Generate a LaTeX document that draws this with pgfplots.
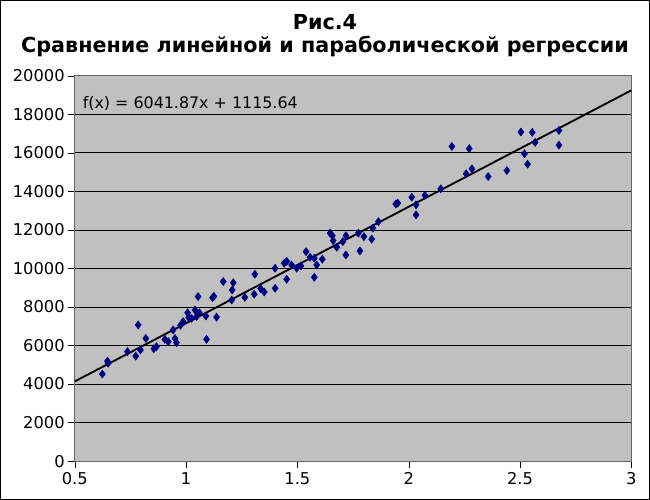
\documentclass[border=0pt]{standalone}
\usepackage{pgfplots}
\pgfplotsset{compat=1.18}
\usepackage{fontspec}
\setmainfont{DejaVu Sans}
\definecolor{plotbg}{HTML}{C0C0C0}
\definecolor{navy}{HTML}{000080}
\begin{document}
\begin{tikzpicture}
\begin{axis}[
  at={(0,0)}, anchor=south west,
  scale only axis,
  width=417pt, height=288.75pt,
  xmin=0.5, xmax=3, ymin=0, ymax=20000,
  xtick={0.5,1,1.5,2,2.5,3},
  ytick={0,2000,...,20000},
  /pgf/number format/assume math mode=true,
  /pgf/number format/1000 sep={},
  scaled y ticks=false,
  ticklabel style={font=\fontsize{12.2}{14}\selectfont},
  yticklabel style={xshift=1pt},
  axis background/.style={fill=plotbg},
  axis line style={draw=gray!80!black},
  ymajorgrids, major grid style={black, line width=0.5pt},
  tick align=outside,
  major tick length=5pt,
  tick style={black},
  xtick pos=bottom, ytick pos=left,
  clip=false,
]
\addplot[only marks, mark=diamond*, mark size=3pt, color=navy] coordinates {
(0.624,4520) (0.647,5190) (0.650,5080) (0.737,5680) (0.774,5450)
(0.785,7070) (0.795,5770) (0.819,6370) (0.855,5830) (0.867,5940)
(0.905,6320) (0.920,6200) (0.942,6810) (0.950,6370) (0.957,6150)
(0.975,7050) (0.987,7240) (1.007,7700) (1.012,7450) (1.025,7410)
(1.040,7840) (1.047,7500) (1.054,8540) (1.060,7700) (1.089,7530)
(1.092,6320) (1.119,8480) (1.125,8550) (1.137,7470) (1.167,9320)
(1.205,8360) (1.207,8880) (1.212,9260) (1.264,8500) (1.306,8660)
(1.309,9700) (1.335,8950) (1.351,8780) (1.400,8970) (1.400,10010)
(1.441,10270) (1.452,9440) (1.452,10370) (1.474,10180) (1.497,10010)
(1.516,10130) (1.539,10870) (1.557,10580) (1.576,10530) (1.576,9540)
(1.587,10180) (1.612,10480) (1.647,11830) (1.657,11700) (1.661,11440)
(1.677,11100) (1.704,11390) (1.718,11700) (1.718,10700) (1.774,11830)
(1.781,10910) (1.799,11650) (1.834,11520) (1.839,12090) (1.864,12430)
(1.942,13340) (1.951,13390) (2.014,13700) (2.033,13300) (2.033,12780)
(2.073,13800) (2.144,14130) (2.194,16330) (2.258,14910) (2.272,16220)
(2.284,15170) (2.357,14770) (2.441,15080) (2.504,17080) (2.520,15950)
(2.534,15410) (2.555,17060) (2.568,16540) (2.675,17160) (2.675,16400)
};
\addplot[black, line width=1.4pt] coordinates {(0.5,4136.575) (3,19241.25)};
\node[anchor=west, font=\fontsize{11.9}{14}\selectfont, inner sep=0pt] at (axis cs:0.535,18550) {f(x) = 6041.87x + 1115.64};
\end{axis}
\draw[line width=1pt] (-55.5pt,-28.5pt) rectangle (430.5pt,345pt);
\node[font=\fontsize{15.5}{18}\selectfont\bfseries] at (187.5pt,329.25pt) {Рис.4};
\node[font=\fontsize{15.5}{18}\selectfont\bfseries] at (187.5pt,310.5pt) {Сравнение линейной и параболической регрессии};
\end{tikzpicture}
\end{document}
